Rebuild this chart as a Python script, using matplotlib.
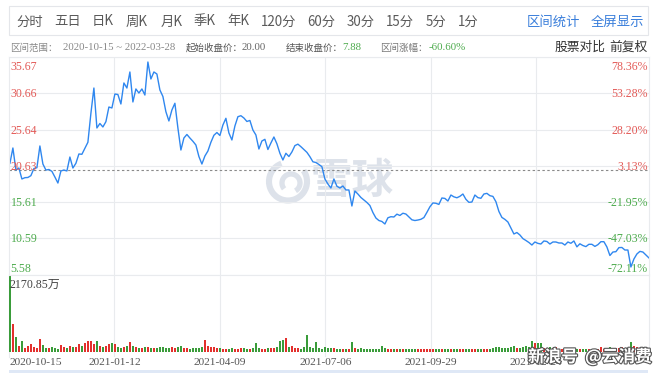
import numpy as np
import matplotlib
matplotlib.use("Agg")
import matplotlib.pyplot as plt
from matplotlib import transforms
from matplotlib.lines import Line2D
from matplotlib.patches import Rectangle, Arc
from matplotlib import patheffects as pe

W, H = 664, 373

# ---------------- data ----------------
close = [20.97, 23.09, 20.04, 20.32, 18.80, 18.98, 19.01, 19.26, 20.25, 20.36,
         23.37, 20.87, 20.04, 20.11, 19.86, 19.07, 18.24, 19.91, 20.04, 19.91,
         21.84, 20.32, 20.97, 22.26, 22.22, 23.05, 23.88, 27.89, 31.39, 25.86,
         26.48, 26.00, 26.73, 28.76, 28.63, 30.56, 30.49, 29.18, 32.09, 31.39,
         33.61, 29.46, 31.26, 30.70, 31.26, 30.42, 34.99, 32.64, 33.61, 33.33,
         31.12, 30.22, 28.11, 26.83, 28.35, 29.28, 25.86, 22.81, 24.47, 24.96,
         24.47, 24.02, 23.50, 21.91, 20.87, 21.98, 22.67, 23.88, 24.85, 25.23,
         24.82, 26.27, 27.20, 25.17, 24.20, 26.13, 27.42, 27.56, 27.24, 26.76,
         26.90, 25.58, 24.89, 22.95, 24.06, 24.29, 22.88, 23.78, 24.61, 23.67,
         22.36, 21.43, 22.36, 21.91, 22.54, 23.42, 23.62, 23.27, 22.87, 22.49,
         21.89, 21.18, 21.08, 20.81, 20.50, 18.80, 18.11, 17.55, 18.80, 17.80,
         17.55, 17.83, 17.28, 17.28, 15.06, 17.14, 16.72, 16.24, 15.89, 15.55,
         15.13, 14.16, 13.40, 13.05, 12.92, 12.57, 13.43, 13.58, 13.54, 13.93,
         13.75, 14.06, 13.95, 13.54, 13.15, 13.05, 13.12, 13.22, 13.46, 14.18,
         14.95, 15.48, 15.44, 15.28, 16.17, 16.11, 15.75, 16.58, 16.33, 16.20,
         16.40, 16.72, 15.99, 15.57, 15.61, 16.58, 16.22, 16.13, 16.72, 16.81,
         16.49, 16.39, 15.66, 14.31, 13.48, 13.21, 12.85, 12.02, 11.19, 11.39,
         11.05, 10.55, 10.29, 10.01, 9.66, 10.08, 9.89, 9.80, 10.22, 10.15,
         9.80, 10.08, 10.08, 9.94, 9.94, 9.66, 10.08, 9.90, 10.22, 9.41,
         9.83, 9.59, 9.44, 9.76, 9.76, 9.47, 9.71, 10.12, 10.12, 9.39,
         8.21, 8.69, 8.74, 9.30, 9.32, 8.97, 8.97, 6.62, 7.72, 8.42,
         8.78, 8.69, 8.28, 7.88]

volume = [2170.85, 790, 430, 150, 305, 95, 165, 220, 120, 100,
          360, 180, 110, 95, 120, 105, 90, 190, 130, 110,
          150, 120, 140, 220, 160, 240, 305, 305, 210, 305,
          150, 130, 170, 210, 240, 210, 120, 110, 130, 150,
          275, 170, 120, 110, 100, 130, 120, 100, 110, 95,
          120, 130, 100, 115, 140, 110, 120, 150, 110, 100,
          90, 110, 95, 100, 120, 335, 165, 120, 140, 100,
          110, 90, 80, 85, 95, 90, 80, 95, 100, 85,
          90, 110, 255, 110, 90, 80, 100, 95, 110, 140,
          305, 335, 400, 120, 165, 100, 110, 90, 120, 475,
          130, 110, 275, 100, 90, 120, 110, 95, 100, 85,
          90, 80, 85, 90, 265, 100, 85, 95, 80, 75,
          90, 80, 85, 90, 170, 95, 80, 85, 75, 80,
          90, 70, 75, 80, 70, 65, 75, 80, 85, 75,
          70, 80, 65, 75, 70, 65, 80, 70, 75, 65,
          70, 80, 75, 70, 65, 75, 80, 90, 75, 70,
          85, 110, 125, 120, 95, 110, 100, 130, 150, 115,
          100, 130, 160, 140, 315, 235, 240, 235, 110, 95,
          120, 90, 125, 80, 75, 85, 70, 80, 75, 90,
          80, 75, 85, 80, 90, 75, 85, 125, 90, 110,
          130, 100, 110, 95, 120, 105, 110, 265, 170, 120,
          100, 90, 110, 85]

price_ticks = [35.67, 30.66, 25.64, 20.63, 15.61, 10.59, 5.58]
pct_ticks = ["78.36%", "53.28%", "28.20%", "3.13%", "-21.95%", "-47.03%", "-72.11%"]
date_labels = ["2020-10-15", "2021-01-12", "2021-04-09", "2021-07-06", "2021-09-29", "2021-12-24"]
start_price = 20.00
end_price = 7.88
range_pct = "-60.60%"
range_text = "2020-10-15 ~ 2022-03-28"
max_vol_label = "2170.85万"
toolbar = ["分时", "五日", "日K", "周K", "月K", "季K", "年K", "120分", "60分", "30分", "15分", "5分", "1分"]

# ---------------- styling / layout ----------------
CJK = "Noto Sans CJK SC"
SERIF = ["Liberation Serif", CJK]
RED_T = "#e35a57"
GRN_T = "#4dab4d"
RED_B = "#e3302d"
GRN_B = "#3a9c3a"
LINE = "#2f87ef"
GRID = "#e9ebee"

plt.rcParams["font.family"] = [CJK, "DejaVu Sans"]

fig = plt.figure(figsize=(W / 100, H / 100), dpi=100)
fig.patch.set_facecolor("white")


def fx(x):
    return x / W


def fy(y):
    return 1 - y / H


def T(x, y, s, **kw):
    return fig.text(fx(x), fy(y), s, **kw)


# toolbar box
fig.add_artist(Rectangle((fx(9), fy(35)), fx(648) - fx(9), fy(6) - fy(35),
                         transform=fig.transFigure, fill=False, ec="#e4e6ea", lw=0.8))
tool_x = [16, 54, 92, 126, 161, 194, 227, 261, 307, 347, 386, 426, 458]
for xx, s in zip(tool_x, toolbar):
    T(xx, 21.5, s, fontsize=9.6, color="#5a5a5a", va="center", ha="left")
T(527, 21.5, "区间统计", fontsize=9.6, color="#3a7fdb", va="center", ha="left")
T(591, 21.5, "全屏显示", fontsize=9.6, color="#3a7fdb", va="center", ha="left")

# info line
iy = 48
LBL = 6.8
NUM = 7.8
T(10.5, iy, "区间范围：", fontsize=LBL, color="#888888", va="center")
T(63, iy, range_text, fontsize=NUM, color="#888888", va="center", family=SERIF)
T(186, iy, "起始收盘价：", fontsize=LBL, color="#555555", va="center")
T(242, iy, f"{start_price:.2f}", fontsize=NUM, color="#666666", va="center", family=SERIF)
T(286, iy, "结束收盘价：", fontsize=LBL, color="#555555", va="center")
T(342, iy, f"{end_price:.2f}", fontsize=NUM, color=GRN_T, va="center", family=SERIF)
T(380.5, iy, "区间涨幅：", fontsize=LBL, color="#777777", va="center")
T(429, iy, range_pct, fontsize=NUM, color=GRN_T, va="center", family=SERIF)
T(555, iy - 1, "股票对比", fontsize=9.2, color="#333333", va="center")
T(609, iy - 1, "前复权", fontsize=9.2, color="#333333", va="center")

# ---------------- main price axes ----------------
n = len(close)
x = np.arange(n)
X0, X1 = 9, 649
Y_TOP, Y_BOT = 57.1, 274.5
XOFF = -0.3
xmax = (X1 - X0) / 3.0 + XOFF

ax = fig.add_axes([fx(X0), fy(Y_BOT), fx(X1) - fx(X0), fy(Y_TOP) - fy(Y_BOT)])
ax.set_xlim(XOFF, xmax)
ax.set_ylim(price_ticks[-1], price_ticks[0])
ax.set_facecolor("none")
for s in ax.spines.values():
    s.set_color(GRID)
    s.set_linewidth(0.8)
ax.set_yticks(price_ticks)
grid_pos = [XOFF + 35.15 * k for k in range(1, 6)]
ax.set_xticks(grid_pos)
ax.tick_params(left=False, bottom=False, labelleft=False, labelbottom=False)
ax.grid(True, color=GRID, lw=0.8)

# watermark 雪球
WM = "#dde2ea"
wm_ax = fig.add_axes([0, 0, 1, 1], facecolor="none")
wm_ax.set_xlim(0, W)
wm_ax.set_ylim(H, 0)
wm_ax.axis("off")
wm_ax.add_patch(Arc((288, 181.5), 38, 38, theta1=-35, theta2=250, lw=4.4, color=WM))
wm_ax.add_patch(Arc((291, 183), 18, 18, theta1=140, theta2=420, lw=3.8, color=WM))
wm_ax.text(352, 181, "雪球", fontsize=30, color=WM, ha="center", va="center", fontweight="bold")
wm_ax.set_zorder(0)
ax.set_zorder(1)

ax.axhline(start_price, color="#8a8a8a", lw=0.8, ls=(0, (2.2, 2.2)))
ax.plot(x, close, color=LINE, lw=1.0, solid_joinstyle="round")

# left price labels / right percent labels
lt = transforms.blended_transform_factory(ax.transAxes, ax.transData)
for k, (p, pct) in enumerate(zip(price_ticks, pct_ticks)):
    off = -1
    if k == 0:
        off = -9.5
    elif k == len(price_ticks) - 1:
        off = 6
    tr = lt + transforms.ScaledTranslation(0, off / 100, fig.dpi_scale_trans)
    col = RED_T if p >= start_price else GRN_T
    ax.text(0.0025, p, f"{p:.2f}", transform=tr, fontsize=8.6, color=col,
            va="center", ha="left", family=SERIF, zorder=5)
    ax.text(0.9985, p, pct, transform=tr, fontsize=8.6, color=col,
            va="center", ha="right", family=SERIF, zorder=5)

# ---------------- volume axes ----------------
V_TOP, V_BASE, V_BOT = 275.5, 351.7, 357
vmax = max(volume)
span = vmax / (V_BASE - V_TOP)
vax = fig.add_axes([fx(X0), fy(V_BOT), fx(X1) - fx(X0), fy(Y_BOT) - fy(V_BOT)])
vax.set_xlim(XOFF, xmax)
vax.set_ylim(-(V_BOT - V_BASE) * span, vmax + (V_TOP - Y_BOT) * span)
vax.set_facecolor("none")
for side, s in vax.spines.items():
    s.set_color(GRID)
    s.set_linewidth(0.8)
vax.spines["top"].set_visible(False)
vax.spines["bottom"].set_visible(False)
vax.set_xticks(grid_pos)
vax.set_yticks([])
vax.tick_params(left=False, bottom=False, labelleft=False, labelbottom=False)
vax.grid(True, axis="x", color=GRID, lw=0.8)

prev = np.r_[np.inf, np.array(close[:-1])]
up = np.array(close) >= prev
colors = [RED_B if u else GRN_B for u in up]
vax.bar(x, volume, width=0.45, color=colors, align="center", lw=0, zorder=3)
vax.text(0.001, 1 - 10.5 / (V_BOT - Y_BOT), max_vol_label, transform=vax.transAxes,
         fontsize=8.6, color="#444444", va="center", ha="left", family=SERIF, zorder=4)

# date labels
for k, d in enumerate(date_labels):
    if k == 0:
        T(10, 362.5, d, fontsize=8.2, color="#555555", ha="left", va="center", family=SERIF)
    else:
        xp = X0 + (grid_pos[k - 1] - XOFF) * 3
        T(xp, 362.5, d, fontsize=8.2, color="#555555", ha="center", va="center", family=SERIF)

# bottom light strip
fig.add_artist(Rectangle((fx(9), fy(373)), fx(648) - fx(9), fy(369.5) - fy(373),
                         transform=fig.transFigure, color="#dfe8f6", lw=0))

# bottom-right source watermark
T(528, 357, "新浪号", fontsize=12, color="white", ha="left", va="center", style="italic",
  fontweight="bold", path_effects=[pe.withStroke(linewidth=1.6, foreground="#555555")])
T(585, 357, "@云消费", fontsize=12, color="white", ha="left", va="center",
  fontweight="bold", path_effects=[pe.withStroke(linewidth=1.6, foreground="#555555")])

fig.savefig("out.png", dpi=100, facecolor="white")
